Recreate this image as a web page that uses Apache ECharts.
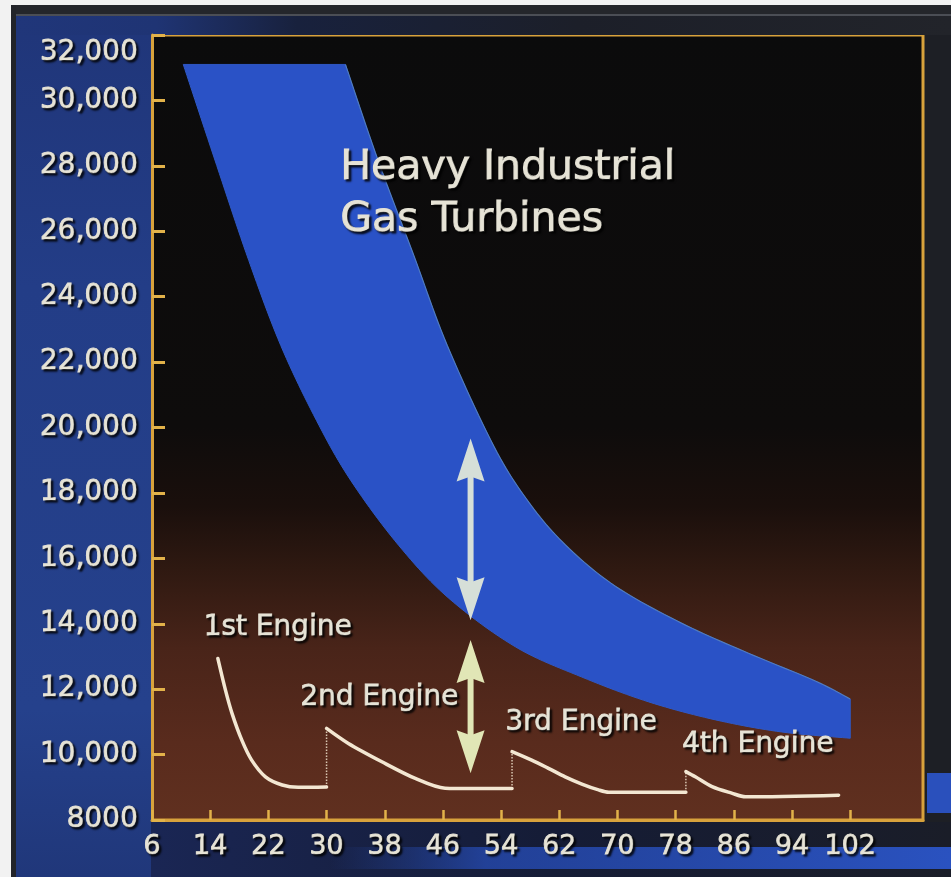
<!DOCTYPE html>
<html>
<head>
<meta charset="utf-8">
<script src="https://cdn.jsdelivr.net/npm/echarts@6/dist/echarts.min.js"></script>
<style>
  html, body { margin: 0; padding: 0; background: #1d1f25; }
  #chart { width: 951px; height: 877px; }
</style>
</head>
<body>
<div id="chart"></div>
<script>
// ---- Axis ticks ----
const xTickValues = [6, 14, 22, 30, 38, 46, 54, 62, 70, 78, 86, 94, 102];
const yTickLabels = ['8000', '10,000', '12,000', '14,000', '16,000', '18,000', '20,000',
  '22,000', '24,000', '26,000', '28,000', '30,000', '32,000'];

// ---- Heavy industrial gas turbine band (upper and lower edges) ----
const bandUpperX = [10.3, 32.6, 37.1, 42.0, 46.6, 53.0, 57.8, 62.9, 69.7, 78.8, 88.0, 97.2, 102.0];
const bandUpperY = [31100, 31100, 28160, 25260, 22510, 19430, 17720, 16400, 15150, 14020, 13100, 12250, 11700];
const bandLowerX = [10.3, 14.9, 19.3, 23.7, 28.6, 33.3, 39.9, 46.8, 56.0, 65.1, 74.3, 83.5, 92.6, 102.0];
const bandLowerY = [31100, 28010, 25110, 22510, 20220, 18390, 16400, 14780, 13290, 12370, 11610, 11060, 10690, 10500];

// ---- Engine curves ----
const engine1X = [15.05, 16.1, 17.0, 18.35, 19.7, 21.6, 23.9, 26.1, 30.0];
const engine1Y = [12940, 11970, 11260, 10440, 9830, 9320, 9070, 9000, 9010];
const engine2X = [30.0, 33.0, 37.6, 42.2, 46.3, 50.0, 55.5];
const engine2Y = [10800, 10340, 9780, 9270, 8970, 8960, 8960];
const engine3X = [55.5, 58.2, 60.5, 62.8, 65.1, 67.4, 68.8, 79.4];
const engine3Y = [10090, 9830, 9580, 9320, 9100, 8920, 8850, 8850];
const engine4X = [79.4, 80.7, 83.0, 85.7, 87.6, 100.4];
const engine4Y = [9480, 9320, 9020, 8820, 8710, 8760];

// ---- Annotations (anchored in data coordinates) ----
const engineLabels = ['1st Engine', '2nd Engine', '3rd Engine', '4th Engine'];
const engineLabelX = [13.1, 26.4, 54.6, 78.9];
const engineLabelY = [13870, 11730, 10960, 10290];
const bandTitle = ['Heavy Industrial', 'Gas Turbines'];
const bandTitleX = [31.9, 31.9];
const bandTitleY = [27920, 26330];

// ---- Double-headed arrows ----
const arrowX = [49.8, 49.8];
const arrowTopY = [19660, 13500];
const arrowBottomY = [14110, 9430];

// ---- Styles ----
const GOLD = '#d8a23c';
const TEXT = '#e6e3d6';
const FONT = 'DejaVu Sans';
const LINE = '#f3e7d2';
const arrowColors = ['#d6dfd8', '#e1e6b6'];

const pairs = (xs, ys) => xs.map((x, i) => [x, ys[i]]);

// Catmull-Rom sampling for a smooth outline through pixel points
function spline(pts, n) {
  const out = [];
  for (let i = 0; i < pts.length - 1; i++) {
    const p0 = pts[Math.max(i - 1, 0)], p1 = pts[i], p2 = pts[i + 1], p3 = pts[Math.min(i + 2, pts.length - 1)];
    for (let k = 0; k < n; k++) {
      const t = k / n, t2 = t * t, t3 = t2 * t;
      out.push([0, 1].map(d => 0.5 * ((2 * p1[d]) + (-p0[d] + p2[d]) * t +
        (2 * p0[d] - 5 * p1[d] + 4 * p2[d] - p3[d]) * t2 +
        (-p0[d] + 3 * p1[d] - 3 * p2[d] + p3[d]) * t3)));
    }
  }
  out.push(pts[pts.length - 1]);
  return out;
}

const textShadow = {
  textShadowColor: 'rgba(0,0,0,0.85)',
  textShadowBlur: 2,
  textShadowOffsetX: 2,
  textShadowOffsetY: 2
};
const textWeight = { textBorderColor: TEXT, textBorderWidth: 0.9 };

function textSeries(name, texts, xs, ys, size) {
  return {
    name: name,
    type: 'custom',
    z: 6,
    silent: true,
    data: pairs(xs, ys),
    renderItem: function (params, api) {
      const p = api.coord([api.value(0), api.value(1)]);
      return {
        type: 'text',
        x: p[0],
        y: p[1],
        style: Object.assign({
          text: texts[params.dataIndex],
          fill: TEXT,
          stroke: TEXT,
          lineWidth: size > 30 ? 1.2 : 0.9,
          fontSize: size,
          fontFamily: FONT,
          align: 'left',
          verticalAlign: 'middle'
        }, textShadow)
      };
    }
  };
}

// Connectors between successive engine curves
const engines = [pairs(engine1X, engine1Y), pairs(engine2X, engine2Y), pairs(engine3X, engine3Y), pairs(engine4X, engine4Y)];
const connectorSeries = [];
for (let i = 1; i < engines.length; i++) {
  const prev = engines[i - 1][engines[i - 1].length - 1];
  const start = engines[i][0];
  connectorSeries.push({
    type: 'line',
    silent: true,
    z: 3,
    showSymbol: false,
    data: [[start[0], prev[1]], start],
    lineStyle: { color: 'rgba(240,226,204,0.85)', width: 1.5, type: 'dotted' }
  });
}

const chart = echarts.init(document.getElementById('chart'), null, { renderer: 'canvas' });

const option = {
  backgroundColor: '#1d1f25',
  animation: false,
  graphic: [
    // outer page edge
    { type: 'rect', shape: { x: 0, y: 0, width: 951, height: 5 }, style: { fill: '#f2f2f2' } },
    { type: 'rect', shape: { x: 0, y: 0, width: 11, height: 877 }, style: { fill: '#f2f2f2' } },
    { type: 'rect', shape: { x: 11, y: 5, width: 940, height: 9 }, style: { fill: '#24262b' } },
    { type: 'rect', shape: { x: 11, y: 5, width: 5, height: 872 }, style: { fill: '#222429' } },
    { type: 'rect', shape: { x: 16, y: 14, width: 935, height: 2 }, style: { fill: '#4b4e55' } },
    // top strip
    {
      type: 'rect', shape: { x: 16, y: 16, width: 935, height: 19 },
      style: {
        fill: new echarts.graphic.LinearGradient(0, 0, 1, 0, [
          { offset: 0, color: '#20367a' }, { offset: 0.15, color: '#1f3474' }, { offset: 0.3, color: '#18213d' },
          { offset: 0.6, color: '#1c1f29' }, { offset: 1, color: '#22242a' }
        ])
      }
    },
    // left blue panel
    {
      type: 'rect', shape: { x: 16, y: 35, width: 135, height: 842 },
      style: {
        fill: new echarts.graphic.LinearGradient(0, 0, 0, 1, [
          { offset: 0, color: '#20367a' }, { offset: 0.3, color: '#233d87' },
          { offset: 0.8, color: '#25418c' }, { offset: 1, color: '#20377a' }
        ])
      }
    },
    // bottom strip under the plot
    {
      type: 'rect', shape: { x: 151, y: 822, width: 800, height: 55 },
      style: {
        fill: new echarts.graphic.LinearGradient(0, 0, 1, 0, [
          { offset: 0, color: '#1a2654' }, { offset: 0.5, color: '#151c36' }, { offset: 1, color: '#1a1d28' }
        ])
      }
    },
    {
      type: 'rect', shape: { x: 330, y: 847, width: 621, height: 22 },
      style: {
        fill: new echarts.graphic.LinearGradient(0, 0, 1, 0, [
          { offset: 0, color: 'rgba(36,72,170,0)' }, { offset: 0.25, color: 'rgba(38,76,182,0.75)' },
          { offset: 1, color: '#2a52c0' }
        ])
      }
    },
    // right edge block
    { type: 'rect', shape: { x: 927, y: 773, width: 24, height: 40 }, style: { fill: '#2a50bc' } }
  ],
  grid: {
    left: 152,
    right: 28,
    top: 35,
    bottom: 57,
    show: true,
    borderColor: GOLD,
    borderWidth: 3,
    backgroundColor: new echarts.graphic.LinearGradient(0, 0, 0, 1, [
      { offset: 0, color: '#0b0b0c' },
      { offset: 0.5, color: '#0e0c0c' },
      { offset: 0.6, color: '#1a0f0c' },
      { offset: 0.68, color: '#2f1911' },
      { offset: 0.78, color: '#492419' },
      { offset: 0.9, color: '#592b1d' },
      { offset: 1, color: '#60301f' }
    ])
  },
  xAxis: {
    type: 'value',
    min: 6,
    max: 112,
    interval: 8,
    splitLine: { show: false },
    axisLine: { show: true, onZero: false, lineStyle: { color: GOLD, width: 3 } },
    axisTick: {
      show: true, inside: true, length: 10, customValues: xTickValues,
      lineStyle: { color: '#e2b24a', width: 2.5 }
    },
    axisLabel: Object.assign({
      customValues: xTickValues,
      margin: 13,
      color: TEXT,
      fontFamily: FONT,
      fontSize: 27,
      formatter: v => String(v)
    }, textShadow, textWeight)
  },
  yAxis: {
    type: 'value',
    min: 8000,
    max: 32000,
    interval: 2000,
    splitLine: { show: false },
    axisLine: { show: true, onZero: false, lineStyle: { color: GOLD, width: 3 } },
    axisTick: { show: true, inside: true, length: 13, lineStyle: { color: '#e2b24a', width: 3 } },
    axisLabel: Object.assign({
      margin: 14,
      color: TEXT,
      fontFamily: FONT,
      fontSize: 28,
      formatter: function (v) {
        const label = yTickLabels[Math.round((v - 8000) / 2000)];
        return v === 32000 ? '{top|' + label + '}' : label;
      },
      rich: {
        top: Object.assign({
          color: TEXT, fontFamily: FONT, fontSize: 28, padding: [36, 0, 0, 0]
        }, textShadow, textWeight)
      }
    }, textShadow, textWeight)
  },
  series: [
    {
      name: 'Heavy Industrial Gas Turbines',
      type: 'custom',
      z: 2,
      silent: true,
      data: [[bandLowerX[0], bandLowerY[0]]],
      renderItem: function (params, api) {
        const up = pairs(bandUpperX, bandUpperY).map(p => api.coord(p));
        const lo = pairs(bandLowerX, bandLowerY).map(p => api.coord(p));
        const upper = [up[0]].concat(spline(up.slice(1), 12));
        const lower = spline(lo, 12).reverse();
        return {
          type: 'group',
          children: [
            {
              type: 'polygon',
              shape: { points: upper.concat(lower) },
              style: { fill: '#2a52c6', stroke: '#2f58c4', lineWidth: 1 }
            },
            {
              type: 'polyline',
              shape: { points: upper.slice(1) },
              style: { stroke: 'rgba(120,170,200,0.45)', lineWidth: 1.2, fill: null }
            }
          ]
        };
      }
    },
    ...engines.map((d, i) => ({
      name: engineLabels[i],
      type: 'line',
      z: 4,
      silent: true,
      showSymbol: false,
      smooth: 0.3,
      data: d,
      lineStyle: { color: LINE, width: 3.5, cap: 'round' }
    })),
    ...connectorSeries,
    {
      name: 'arrows',
      type: 'custom',
      z: 5,
      silent: true,
      data: arrowX.map((x, i) => [x, arrowTopY[i], arrowBottomY[i]]),
      renderItem: function (params, api) {
        const a = api.coord([api.value(0), api.value(1)]);
        const b = api.coord([api.value(0), api.value(2)]);
        const color = arrowColors[params.dataIndex];
        const hw = 14, hl = 43, sw = 3;
        const x = a[0];
        return {
          type: 'group',
          children: [
            { type: 'rect', shape: { x: x - sw, y: a[1] + hl - 6, width: 2 * sw, height: b[1] - a[1] - 2 * hl + 12 }, style: { fill: color } },
            { type: 'polygon', shape: { points: [[x, a[1]], [x + hw, a[1] + hl], [x, a[1] + hl - 5], [x - hw, a[1] + hl]] }, style: { fill: color } },
            { type: 'polygon', shape: { points: [[x, b[1]], [x + hw, b[1] - hl], [x, b[1] - hl + 5], [x - hw, b[1] - hl]] }, style: { fill: color } }
          ]
        };
      }
    },
    textSeries('engine labels', engineLabels, engineLabelX, engineLabelY, 28),
    textSeries('band title', bandTitle, bandTitleX, bandTitleY, 41)
  ]
};

chart.setOption(option);
</script>
</body>
</html>
